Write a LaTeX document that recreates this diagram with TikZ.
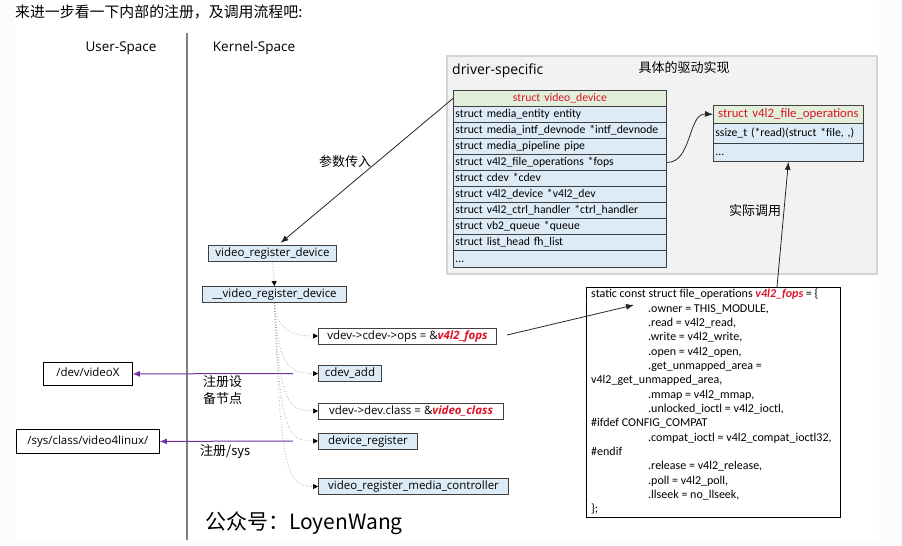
\documentclass[tikz,border=0pt]{standalone}
\usepackage{fontspec}
\setmainfont{Carlito}
\newfontfamily\cjk{Noto Sans CJK SC}
\newfontfamily\osans{Open Sans}
\usetikzlibrary{arrows.meta}
\definecolor{bluefill}{RGB}{221,235,247}
\definecolor{greenfill}{RGB}{226,239,218}
\definecolor{panelfill}{RGB}{242,242,242}
\definecolor{panelline}{RGB}{212,212,212}
\definecolor{redtxt}{RGB}{220,20,40}
\definecolor{purp}{RGB}{112,48,160}
\definecolor{boxline}{RGB}{64,64,64}
\definecolor{outerbg}{RGB}{251,251,251}
\definecolor{divider}{RGB}{128,128,128}
\newcommand{\redhl}[1]{\textcolor{redtxt}{\bfseries\itshape #1}}
\begin{document}
\begin{tikzpicture}[x=1pt,y=-1pt,
  row/.style={draw=boxline, line width=0.8pt, fill=bluefill, minimum height=16pt, text width=209pt,
    inner xsep=2pt, inner ysep=0pt, align=left, anchor=north west,
    font=\fontsize{11.7}{13}\selectfont, text height=9pt, text depth=2.5pt},
  headrow/.style={row, fill=greenfill, align=center, text=redtxt},
  lbl/.style={draw=boxline, line width=1pt, fill=bluefill, minimum width=#1, minimum height=16pt,
    inner xsep=0pt, inner ysep=0pt, anchor=north west,
    font=\osans\fontsize{11.5}{13}\selectfont, text height=8.5pt, text depth=2.5pt},
  wlbl/.style={lbl=#1, fill=white},
  ubox/.style={draw=black, line width=0.8pt, fill=white, minimum width=#1, inner xsep=0pt, inner ysep=0pt,
    anchor=north west, font=\osans\fontsize{11.5}{13}\selectfont, text height=8.5pt, text depth=2.5pt},
  cn/.style={font=\cjk\fontsize{13}{17}\selectfont, inner sep=0pt},
  dotline/.style={draw=gray!75, dotted, line width=0.7pt, -{Triangle[length=5pt,width=5pt,color=black]}},
  blackarrow/.style={draw=black!85, line width=0.8pt, -{Latex[length=8pt,width=6pt]}},
  purparrow/.style={draw=purp, line width=1pt, -{Latex[length=7pt,width=6pt]}}
]
\useasboundingbox (0,0) rectangle (902,546);
\fill[outerbg] (0,0) rectangle (902,546);
\fill[white] (15,0) rectangle (879,540);

% title
\node[anchor=west, inner sep=0pt, font=\cjk\fontsize{14.9}{16}\selectfont] (title) at (15,12) {来进一步看一下内部的注册，及调用流程吧:};

% space labels and divider
\node[font=\osans\fontsize{13.5}{15}\selectfont, inner sep=0pt] (us) at (121,48) {User-Space};
\node[font=\osans\fontsize{13.5}{15}\selectfont, inner sep=0pt] (ks) at (254,48) {Kernel-Space};
\draw[line width=1.8pt, draw=divider] (187,33) -- (187,540);

% driver-specific panel
\fill[panelfill, draw=panelline, line width=1.2pt] (447,56) rectangle (877,274);
\node[anchor=west, inner sep=0pt, font=\osans\fontsize{14}{16}\selectfont] (ds) at (452,71) {driver-specific};
\node[cn] (impl) at (684,68) {具体的驱动实现};

% struct video_device table
\node[headrow] (vh) at (453,90) {struct video\_device};
\node[row] (r1) at (453,106) {struct media\_entity entity};
\node[row] (r2) at (453,122) {struct media\_intf\_devnode *intf\_devnode};
\node[row] (r3) at (453,138) {struct media\_pipeline pipe};
\node[row] (r4) at (453,154) {struct v4l2\_file\_operations *fops};
\node[row] (r5) at (453,170) {struct cdev *cdev};
\node[row] (r6) at (453,186) {struct v4l2\_device *v4l2\_dev};
\node[row] (r7) at (453,202) {struct v4l2\_ctrl\_handler *ctrl\_handler};
\node[row] (r8) at (453,218) {struct vb2\_queue *queue};
\node[row] (r9) at (453,234) {struct list\_head fh\_list};
\node[row, minimum height=17pt] (r10) at (453,250) {...};

% struct v4l2_file_operations table
\node[headrow, text width=146pt, minimum height=18pt, font=\fontsize{12.8}{14}\selectfont] (fh) at (713,105) {struct v4l2\_file\_operations};
\node[row, text width=146pt, minimum height=20pt] (f1) at (713,123) {ssize\_t (*read)(struct *file, ,)};
\node[row, text width=146pt, minimum height=18pt] (f2) at (713,143) {...};

\draw[blackarrow] (r4.east) .. controls (692,163) and (688,113) .. (fh.west);

% kernel call chain
\node[lbl=128pt] (vrd) at (208,245) {video\_register\_device};
\node[lbl=144pt] (vrd2) at (202,286) {\_\_video\_register\_device};
\node[wlbl=178pt] (ops) at (318,327.5) {vdev->cdev->ops = \&\redhl{v4l2\_fops}};
\node[lbl=63pt] (cadd) at (318,365) {cdev\_add};
\node[wlbl=185pt] (cls) at (318,402.5) {vdev->dev.class = \&\redhl{video\_class}};
\node[lbl=99pt] (dreg) at (318,432.5) {device\_register};
\node[lbl=190pt] (vmc) at (318,478) {video\_register\_media\_controller};

\draw[blackarrow] (vh.west) -- ([xshift=8pt,yshift=2pt]vrd.north);
\node[cn] (param) at (345,162) {参数传入};

\draw[dotline] (vrd.south) -- (vrd2.north);
\draw[dotline] (vrd2.south) .. controls +(2,24) and +(-30,0) .. (ops.west);
\draw[dotline] (vrd2.south) .. controls +(3,60) and +(-30,0) .. (cadd.west);
\draw[dotline] (vrd2.south) .. controls +(4,98) and +(-30,0) .. (cls.west);
\draw[dotline] (vrd2.south) .. controls +(5,128) and +(-30,0) .. (dreg.west);
\draw[dotline] (vrd2.south) .. controls +(6,172) and +(-30,0) .. (vmc.west);

% user space nodes
\node[ubox=89pt, minimum height=23pt] (devx) at (43,362) {/dev/videoX};
\node[ubox=143pt, minimum height=24pt] (sysc) at (16,429) {/sys/class/video4linux/};
\coordinate (p1) at (293,373.5);
\coordinate (p2) at (293,441);
\draw[purparrow] (p1) -- (devx.east);
\draw[purparrow] (p2) -- (sysc.east);
\node[cn, anchor=north west, align=left] (lab1) at (203,375) {注册设\\备节点};
\node[cn, anchor=west] (lab2) at (200,452) {注册/sys};

% fops code box
\node[draw=black, line width=0.8pt, fill=white, minimum width=254pt, minimum height=230pt, anchor=north west, inner sep=0pt] (code) at (586,287) {};
\node[anchor=north west, inner sep=0pt, align=left, font=\fontsize{12}{14.33}\selectfont] (codetext) at (591,289) {%
static const struct file\_operations \redhl{v4l2\_fops} = \{\\
\hspace*{57pt}.owner = THIS\_MODULE,\\
\hspace*{57pt}.read = v4l2\_read,\\
\hspace*{57pt}.write = v4l2\_write,\\
\hspace*{57pt}.open = v4l2\_open,\\
\hspace*{57pt}.get\_unmapped\_area =\\
v4l2\_get\_unmapped\_area,\\
\hspace*{57pt}.mmap = v4l2\_mmap,\\
\hspace*{57pt}.unlocked\_ioctl = v4l2\_ioctl,\\
\#ifdef CONFIG\_COMPAT\\
\hspace*{57pt}.compat\_ioctl = v4l2\_compat\_ioctl32,\\
\#endif\\
\hspace*{57pt}.release = v4l2\_release,\\
\hspace*{57pt}.poll = v4l2\_poll,\\
\hspace*{57pt}.llseek = no\_llseek,\\
\};};

\coordinate (codein) at (634,305);
\coordinate (codetop) at (777,287);
\draw[blackarrow] ([xshift=10pt,yshift=1pt]ops.east) -- (codein);
\draw[blackarrow] (codetop) -- (f2.south);
\node[cn] (call) at (755,211) {实际调用};

% signature
\node[anchor=west, inner sep=0pt, font=\cjk\fontsize{21}{23}\selectfont] (sig) at (205,523) {公众号：LoyenWang};
\end{tikzpicture}
\end{document}
